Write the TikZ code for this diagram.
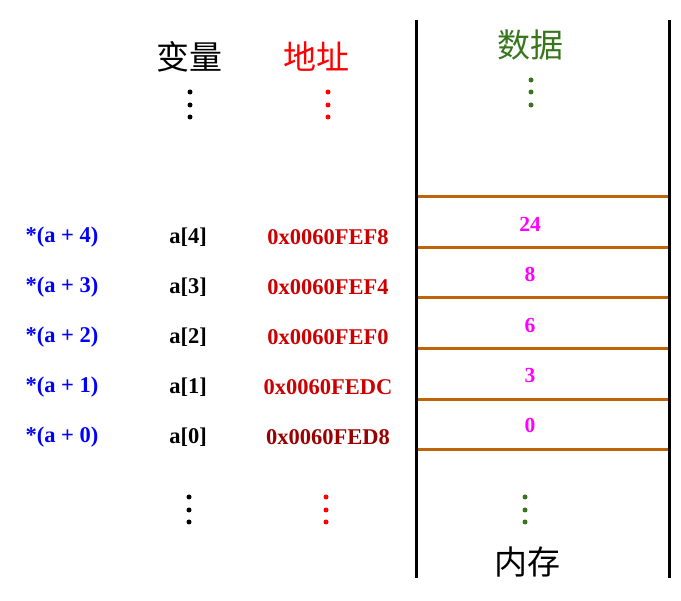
\documentclass[tikz,border=0pt]{standalone}
\usepackage{fontspec}
\setmainfont{Liberation Serif}
\newfontfamily\cjk{Noto Sans CJK SC}
\definecolor{adrrouge}{RGB}{204,0,0}
\definecolor{adrfonce}{RGB}{153,0,0}
\definecolor{vert}{RGB}{56,118,29}
\definecolor{brun}{RGB}{192,100,10}
\definecolor{rose}{RGB}{255,0,255}
\tikzset{
  titre/.style={inner sep=0pt,font=\cjk\fontsize{33}{36}\selectfont},
  etiq/.style={inner sep=0pt,font=\bfseries\fontsize{22.5}{26}\selectfont},
  valeur/.style={inner sep=0pt,text=rose,font=\bfseries\fontsize{21.5}{24}\selectfont},
  point/.style={circle,fill,inner sep=0pt,minimum size=5pt}
}
\begin{document}
\begin{tikzpicture}[x=1pt,y=-1pt]
\useasboundingbox (0,0) rectangle (681,601);

% Titres
\node[titre] (V) at (189,57) {变量};
\node[titre,text=red] (A) at (316,57) {地址};
\node[titre,text=vert] (D) at (530,45) {数据};
\node[titre] (M) at (527,562) {内存};

% Memoire
\draw[line width=3pt] (416,20) -- (416,578);
\draw[line width=3pt] (669,20) -- (669,578);
\foreach \y in {197,248,298,349,400,450}
  \draw[brun,line width=3pt] (417.5,\y) -- (667.5,\y);

% Cases
\node[valeur] (c4) at (530,224) {24};
\node[valeur] (c3) at (530,274) {8};
\node[valeur] (c2) at (530,325) {6};
\node[valeur] (c1) at (530,375) {3};
\node[valeur] (c0) at (530,425) {0};

% Lignes du tableau
\foreach \i/\y/\adr in {4/237/0x0060FEF8,3/287/0x0060FEF4,2/337/0x0060FEF0,1/387/0x0060FEDC}{
  \node[etiq,text=blue] (p\i) at (62,\y) {*(a + \i)};
  \node[etiq] (a\i) at (188,\y) {a[\i]};
  \node[etiq,text=adrrouge] (d\i) at (328,\y) {\adr};
}
\node[etiq,text=blue] (p0) at (62,437) {*(a + 0)};
\node[etiq] (a0) at (188,437) {a[0]};
\node[etiq,text=adrfonce] (d0) at (328,437) {0x0060FED8};

% Points de suspension
\foreach \y in {92,105,117}{
  \node[point] at (190,\y) {};
  \node[point,red] at (328,\y) {};
}
\foreach \y in {80,92,105}
  \node[point,vert] at (531,\y) {};
\foreach \y in {497,510,522}{
  \node[point] at (189,\y) {};
  \node[point,red] at (326,\y) {};
  \node[point,vert] at (525,\y) {};
}

\end{tikzpicture}
\end{document}
